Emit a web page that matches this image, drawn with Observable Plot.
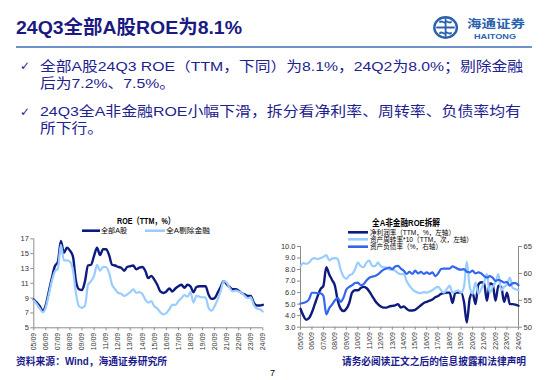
<!DOCTYPE html>
<html><head><meta charset="utf-8">
<script src="https://cdn.jsdelivr.net/npm/d3@7"></script>
<script src="https://cdn.jsdelivr.net/npm/@observablehq/plot@0.6"></script>
<style>
html,body{margin:0;padding:0;background:#fff;}
#page{position:relative;width:550px;height:380px;overflow:hidden;background:#fff;}
#c1{position:absolute;left:0;top:232px;}
#c2{position:absolute;left:280px;top:240px;}
#overlay{position:absolute;left:0;top:0;}
</style></head><body>
<div id="page">
<div id="c1"></div>
<div id="c2"></div>
<svg id="overlay" width="550" height="380"></svg>
</div>
<script>
// ---------- data ----------
const xTickLabels = ["05/09","06/09","07/09","08/09","09/09","10/09","11/09","12/09","13/09","14/09",
  "15/09","16/09","17/09","18/09","19/09","20/09","21/09","22/09","23/09","24/09"];

const roeAllA = [8.8,8.4,7.9,7.3,8.1,9.9,11.7,13.3,13.9,16.7,
  15.1,15.8,15.4,14.6,11.3,10.2,10.1,11.3,13.4,13.5,
  14.7,15.8,14.8,15.6,15.6,14.8,13.5,13.4,13.2,13.1,
  12.7,13.2,13.3,13.4,12.9,13.1,13.2,12.7,11.7,12.0,
  11.5,10.8,9.9,9.7,9.9,10.3,9.9,10.3,10.6,10.8,
  10.4,10.8,10.6,9.8,10.5,10.6,10.6,10.6,9.5,8.9,
  9.0,9.7,10.5,11.3,10.9,10.5,10.2,10.2,10.0,9.7,
  9.5,9.3,9.3,8.4,8.0,8.0,8.1];
const roeExFin = [8.7,8.2,7.6,7.1,7.8,9.5,11.3,12.6,13.0,16.2,
  14.1,14.1,13.9,12.8,9.7,7.9,7.7,8.0,10.8,11.3,
  12.0,13.5,12.7,13.2,13.2,12.4,10.8,10.2,9.7,9.6,
  9.3,9.5,9.8,10.2,9.7,9.8,9.6,8.8,8.4,8.6,
  7.9,7.6,7.1,6.8,7.0,7.5,8.1,8.1,8.6,9.0,
  9.4,9.2,9.8,8.4,9.3,9.2,9.1,9.1,7.7,7.3,
  7.9,8.8,9.9,11.3,11.1,10.4,9.9,10.0,9.9,9.7,
  9.3,9.0,9.1,8.1,7.6,7.5,7.2];

const netMargin = [4.6,4.0,3.65,3.8,4.3,5.0,5.7,6.3,6.6,8.2,
  7.6,7.1,6.6,5.3,4.6,4.4,4.6,5.1,6.0,6.2,
  6.2,6.4,6.5,6.4,6.1,5.7,5.3,5.0,4.8,4.7,
  4.7,4.8,4.85,4.9,5.0,4.7,4.8,4.6,4.45,4.45,
  4.5,4.7,4.9,5.1,5.2,5.3,5.4,5.6,5.7,5.9,
  5.95,6.0,6.0,5.1,6.0,6.0,6.0,5.2,3.4,5.5,
  6.0,5.0,6.7,6.9,6.8,5.3,6.8,6.7,5.3,6.6,
  6.5,5.2,6.0,5.0,5.0,4.95,4.86];
const assetTurnover10 = [8.3,8.55,8.5,8.6,8.9,9.0,8.9,9.0,9.1,9.25,
  8.8,8.95,9.0,8.9,8.0,7.4,7.2,7.5,7.6,8.0,
  8.6,8.3,8.2,8.6,8.8,8.3,8.3,8.6,8.3,8.2,
  8.2,8.0,8.0,7.9,7.7,7.6,7.6,7.0,6.6,6.3,
  6.1,6.0,5.95,6.05,6.0,6.1,6.2,6.4,6.5,6.2,
  6.0,6.3,6.6,6.0,6.1,6.2,6.0,6.5,8.7,6.5,
  5.9,6.9,5.9,6.3,6.9,7.6,6.0,6.5,6.9,7.6,
  6.2,6.5,6.7,7.3,6.4,6.3,6.2];
const debtRatio = [54.4,54.5,54.7,55.2,56.4,56.4,56.3,56.3,55.8,52.4,
  53.5,54.2,55.0,55.4,54.7,55.5,57.0,57.5,57.8,58.2,
  58.3,57.8,58.0,58.7,59.2,59.4,59.5,59.8,60.3,60.7,
  60.9,61.1,60.8,61.3,61.4,60.9,60.5,59.9,60.3,59.9,
  60.5,60.0,60.3,59.9,60.2,59.9,60.2,59.5,60.0,60.8,
  60.9,60.9,60.9,61.3,61.1,60.8,60.7,60.8,60.3,60.2,
  60.5,60.0,60.2,60.0,59.5,59.2,59.5,59.2,58.6,58.8,
  58.6,58.3,58.4,57.7,58.2,58.2,57.8];

const roeTicks = [5,7,9,11,13,15,17];
const leftTicks = [3,4,5,6,7,8,9,10];
const rightTicks = [50,55,60,65];

// ---------- helpers ----------
const FONT = '"Liberation Sans", Arial, "Noto Sans CJK SC", sans-serif';
const NAVY = "#0d1a7e";
const LIGHT = "#99ccff";
const MID = "#3366ee";
const AXIS = "#8c8c8c";

const parseLabel = s => new Date(Date.UTC(2000 + +s.slice(0,2), +s.slice(3) - 1, 1));
const start = parseLabel(xTickLabels[0]);
const dates = roeAllA.map((_, i) => new Date(Date.UTC(start.getUTCFullYear(), start.getUTCMonth() + 3 * i, 1)));
const tickDates = xTickLabels.map(parseLabel);
const fmt = d3.utcFormat("%y/%m");

const rows1 = dates.map((d, i) => ({date: d, all: roeAllA[i], ex: roeExFin[i]}));
const rows2 = dates.map((d, i) => ({date: d, nm: netMargin[i], at: assetTurnover10[i], dr: debtRatio[i]}));

// ---------- chart 1 ----------
const chart1 = Plot.plot({
  width: 275, height: 120,
  marginLeft: 33.3, marginRight: 12.7, marginTop: 6.3, marginBottom: 24.7,
  style: {fontFamily: FONT, fontSize: "7.5px", color: "#333", background: "transparent", overflow: "visible"},
  x: {type: "utc", domain: [dates[0], dates[dates.length - 1]]},
  y: {domain: [5, 17]},
  marks: [
    Plot.axisY({ticks: roeTicks, tickSize: 3, tickPadding: 2, stroke: AXIS, label: null, fontSize: 7.5}),
    Plot.axisX({ticks: tickDates, tickFormat: fmt, tickRotate: -90, tickSize: 3, tickPadding: 2, stroke: AXIS, label: null, fontSize: 7}),
    Plot.ruleX([dates[0]], {stroke: AXIS}),
    Plot.ruleY([5], {stroke: AXIS}),
    Plot.line(rows1, {x: "date", y: "all", stroke: NAVY, strokeWidth: 2.4, curve: "monotone-x"}),
    Plot.line(rows1, {x: "date", y: "ex", stroke: LIGHT, strokeWidth: 2.2, curve: "monotone-x"})
  ]
});
document.getElementById("c1").append(chart1);

// ---------- chart 2 ----------
const L0 = leftTicks[0], L1 = leftTicks[leftTicks.length - 1];
const R0 = rightTicks[0], R1 = rightTicks[rightTicks.length - 1];
const toLeft = v => L0 + (v - R0) * (L1 - L0) / (R1 - R0);
const toRight = v => R0 + (v - L0) * (R1 - R0) / (L1 - L0);

const chart2 = Plot.plot({
  width: 260, height: 112,
  marginLeft: 20, marginRight: 22, marginTop: 6, marginBottom: 25.3,
  style: {fontFamily: FONT, fontSize: "7.5px", color: "#333", background: "transparent", overflow: "visible"},
  x: {type: "utc", domain: [dates[0], dates[dates.length - 1]]},
  y: {domain: [L0, L1]},
  marks: [
    Plot.axisY({ticks: leftTicks, tickSize: 3, tickPadding: 2, stroke: AXIS, label: null, fontSize: 7.5}),
    Plot.axisY({anchor: "right", ticks: rightTicks.map(toLeft), tickFormat: d => String(Math.round(toRight(d))), tickSize: 3, tickPadding: 2, stroke: AXIS, label: null, fontSize: 7.5}),
    Plot.axisX({ticks: tickDates, tickFormat: fmt, tickRotate: -90, tickSize: 3, tickPadding: 2, stroke: AXIS, label: null, fontSize: 7}),
    Plot.ruleX([dates[0], dates[dates.length - 1]], {stroke: AXIS}),
    Plot.ruleY([L0], {stroke: AXIS}),
    Plot.line(rows2, {x: "date", y: "nm", stroke: NAVY, strokeWidth: 2.4, curve: "monotone-x"}),
    Plot.line(rows2, {x: "date", y: "at", stroke: LIGHT, strokeWidth: 2.2, curve: "monotone-x"}),
    Plot.line(rows2, {x: "date", y: d => toLeft(d.dr), stroke: MID, strokeWidth: 2.2, curve: "monotone-x"})
  ]
});
document.getElementById("c2").append(chart2);

// ---------- slide overlay: title, text, legends, footer ----------
const svg = d3.select("#overlay");
function addText(o) {
  const t = svg.append("text")
    .attr("x", o.x).attr("y", o.y)
    .attr("font-family", o.family || FONT)
    .attr("font-size", o.size)
    .attr("font-weight", o.weight || "normal")
    .attr("fill", o.fill || "#000")
    .attr("text-anchor", o.anchor || "start")
    .text(o.s);
  const natural = t.node().getComputedTextLength();
  let len = o.len;
  if (!len && o.k) len = natural * o.k;
  if (len) t.attr("textLength", len).attr("lengthAdjust", "spacingAndGlyphs");
  return {t, natural};
}
function addLine(x1, x2, y, color, w) {
  svg.append("line").attr("x1", x1).attr("x2", x2).attr("y1", y).attr("y2", y)
    .attr("stroke", color).attr("stroke-width", w);
}

const TITLE_C = "#1a1a82";
const TEXT_C = "#1e2290";
const LOGO_C = "#2b62ad";

addText({x: 16, y: 34.3, s: "24Q3全部A股ROE为8.1%", size: 19, weight: "bold", fill: TITLE_C, len: 226});
addLine(16, 532, 47, "#6d93c8", 2.2);

// logo
svg.append("ellipse").attr("cx", 445.6).attr("cy", 27.5).attr("rx", 11.3).attr("ry", 10.2)
  .attr("fill", "none").attr("stroke", LOGO_C).attr("stroke-width", 2.4);
const lg = svg.append("g").attr("fill", "none").attr("stroke", LOGO_C).attr("stroke-width", 1.8).attr("stroke-linecap", "round");
lg.append("path").attr("d", "M445.6,19 L445.6,36");
lg.append("path").attr("d", "M437,27.5 L454,27.5");
lg.append("path").attr("d", "M440,22 C442,20 444,24 445.6,22 C447,20 449,24 451,22");
lg.append("path").attr("d", "M440,33 C442,31 444,35 445.6,33 C447,31 449,35 451,33");
addText({x: 467, y: 27.8, s: "海通证券", size: 11.5, weight: "bold", fill: LOGO_C, len: 58, family: '"Noto Sans CJK SC", sans-serif'});
addText({x: 474, y: 39, s: "HAITONG", size: 7, weight: "bold", fill: LOGO_C, len: 42});

// bullets
addText({x: 20, y: 70, s: "✓", size: 12, fill: TEXT_C, family: '"DejaVu Sans", sans-serif'});
addText({x: 20, y: 116, s: "✓", size: 12, fill: TEXT_C, family: '"DejaVu Sans", sans-serif'});
const b1 = addText({x: 40, y: 70.7, s: "全部A股24Q3 ROE（TTM，下同）为8.1%，24Q2为8.0%；剔除金融", size: 13.5, fill: TEXT_C, len: 483});
const k = 483 / b1.natural;
addText({x: 40, y: 87.7, s: "后为7.2%、7.5%。", size: 13.5, fill: TEXT_C, k});
addText({x: 40, y: 116, s: "24Q3全A非金融ROE小幅下滑，拆分看净利率、周转率、负债率均有", size: 13.5, fill: TEXT_C, len: 481});
addText({x: 40, y: 133, s: "所下行。", size: 13.5, fill: TEXT_C, k});

// chart 1 title + legend
addText({x: 117, y: 224, s: "ROE（TTM，%）", size: 9, weight: "bold", fill: "#000", len: 58});
addLine(82, 100, 230.7, NAVY, 2.6);
addText({x: 101, y: 233.3, s: "全部A股", size: 7, fill: "#000", len: 26});
addLine(145, 165, 230.7, LIGHT, 2.6);
addText({x: 166, y: 233.3, s: "全A剔除金融", size: 7, fill: "#000", len: 44});

// chart 2 title + legend
addText({x: 372, y: 225.5, s: "全A非金融ROE拆解", size: 9, weight: "bold", fill: "#000", len: 68});
addLine(348, 368, 232.3, NAVY, 2.6);
addText({x: 370, y: 234.8, s: "净利润率（TTM，%，左轴）", size: 7, fill: "#000", len: 85});
addLine(348, 368, 239.3, LIGHT, 2.6);
addText({x: 370, y: 241.8, s: "资产周转率*10（TTM，次，左轴）", size: 7, fill: "#000", len: 103});
addLine(348, 368, 246.7, MID, 2.6);
addText({x: 370, y: 249.2, s: "资产负债率（%，右轴）", size: 7, fill: "#000", len: 72});

// footer
addText({x: 16, y: 365, s: "资料来源：Wind，海通证券研究所", size: 10, weight: "bold", fill: "#1a1a8c", len: 151});
addText({x: 342, y: 365, s: "请务必阅读正文之后的信息披露和法律声明", size: 10, weight: "bold", fill: "#1a1a8c", len: 184});
addText({x: 272.5, y: 375.5, s: "7", size: 9, fill: "#000", anchor: "middle"});
</script>
</body></html>
